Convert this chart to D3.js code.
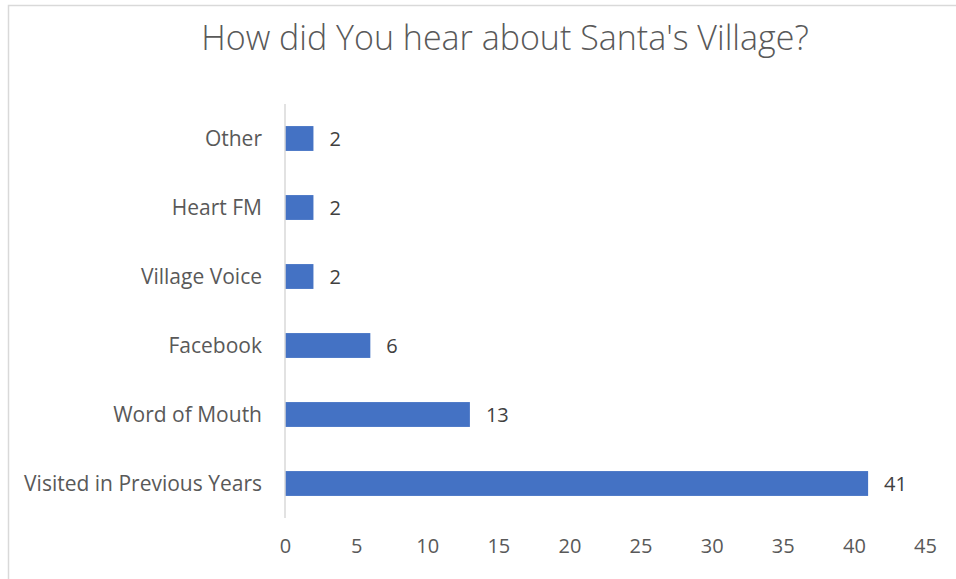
<!DOCTYPE html>
<html>
<head>
<meta charset="utf-8">
<script src="https://d3js.org/d3.v7.min.js"></script>
<style>
  body { margin: 0; background: #fff; }
  text { font-family: "Open Sans", sans-serif; fill: #595959; }
</style>
</head>
<body>
<div id="chart"></div>
<script>
// data
var categories = ["Other", "Heart FM", "Village Voice", "Facebook", "Word of Mouth", "Visited in Previous Years"];
var values = [2, 2, 2, 6, 13, 41];
var xTicks = [0, 5, 10, 15, 20, 25, 30, 35, 40, 45];
var title = "How did You hear about Santa's Village?";

var width = 956, height = 579;

var svg = d3.select("#chart").append("svg")
  .attr("width", width)
  .attr("height", height);

// chart border (right/bottom fall outside the picture)
svg.append("rect")
  .attr("x", 8.5).attr("y", 5.5)
  .attr("width", 1000).attr("height", 1000)
  .attr("fill", "none")
  .attr("stroke", "#d9d9d9")
  .attr("stroke-width", 1.5);

svg.append("text")
  .attr("x", 505).attr("y", 50)
  .attr("text-anchor", "middle")
  .style("font-size", "34px")
  .style("font-weight", 300)
  .text(title);

var x = d3.scaleLinear()
  .domain([0, 45])
  .range([285, 925]);

var y = d3.scaleBand()
  .domain(categories)
  .range([104, 518])
  .paddingInner(0.64)
  .paddingOuter(0.32);

// x tick labels (no axis line)
svg.append("g")
  .attr("transform", "translate(0,518)")
  .call(d3.axisBottom(x).tickValues(xTicks).tickSize(0).tickPadding(21))
  .call(function(g) { g.select(".domain").remove(); })
  .selectAll("text")
    .style("font-size", "20px")
    .style("fill", "#595959")
    .style("font-family", "'Open Sans', sans-serif");

// bars
svg.append("g")
  .selectAll("rect")
  .data(values)
  .enter().append("rect")
    .attr("x", x(0))
    .attr("y", function(d, i) { return y(categories[i]); })
    .attr("width", function(d) { return x(d) - x(0); })
    .attr("height", y.bandwidth())
    .attr("fill", "#4472c4");

// y axis line
svg.append("line")
  .attr("x1", x(0)).attr("x2", x(0))
  .attr("y1", 104).attr("y2", 518)
  .attr("stroke", "#d9d9d9")
  .attr("stroke-width", 1.5);

// category labels
svg.append("g")
  .selectAll("text")
  .data(categories)
  .enter().append("text")
    .attr("x", 262)
    .attr("y", function(d) { return y(d) + y.bandwidth() / 2; })
    .attr("dy", "0.35em")
    .attr("text-anchor", "end")
    .style("font-size", "21px")
    .text(function(d) { return d; });

// value labels
svg.append("g")
  .selectAll("text")
  .data(values)
  .enter().append("text")
    .attr("x", function(d) { return x(d) + 16; })
    .attr("y", function(d, i) { return y(categories[i]) + y.bandwidth() / 2; })
    .attr("dy", "0.35em")
    .style("font-size", "20px")
    .style("fill", "#404040")
    .text(function(d) { return d; });
</script>
</body>
</html>
